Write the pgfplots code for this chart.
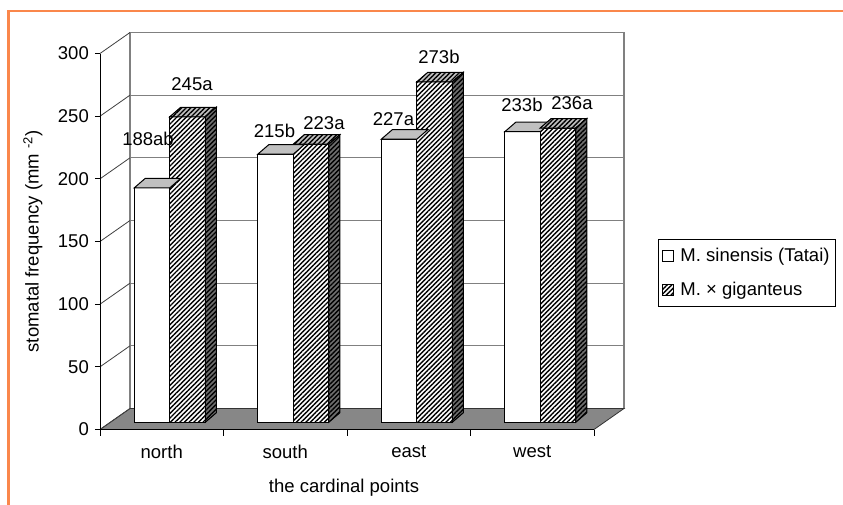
\documentclass[border=0pt]{standalone}
\usepackage{fontspec}
\setmainfont{Liberation Sans}
\usepackage{pgfplots}
\pgfplotsset{compat=1.18}
\usepackage{pgfplotstable}
\usetikzlibrary{patterns.meta}

\definecolor{orangeborder}{RGB}{250,135,75}
\definecolor{topgray}{RGB}{192,192,192}
\definecolor{floorgray}{RGB}{135,135,135}
\definecolor{wallgray}{RGB}{128,128,128}
\definecolor{sidegray}{RGB}{110,110,110}

\tikzset{hatch/.style={pattern={Lines[angle=45,distance=3.3pt,line width=1.4pt]}, pattern color=black}}
\pgfdeclareplotmark{nothing}{}

% category position, M. sinensis (Tatai), M. x giganteus
\pgfplotstableread{
x   sin gig
0.5 188 245
1.5 215 223
2.5 227 273
3.5 233 236
}\data

\begin{document}
\begin{tikzpicture}[x=1pt,y=1pt,font=\fontsize{18.5}{21}\selectfont]
\useasboundingbox (0,0) rectangle (843,504);
\clip (0,0) rectangle (843,504);
\fill[white] (0,0) rectangle (843,504);
\draw[orangeborder, line width=2.4pt] (8.3,492.7) rectangle (870,-30);

% ---------- front plane: axes, walls, floor ----------
\begin{axis}[
  at={(100pt,74.5pt)}, anchor=south west,
  scale only axis, width=494pt, height=376pt,
  xmin=0, xmax=4, ymin=0, ymax=300,
  clip=false, axis on top,
  axis lines*=left,
  axis line style={black, line width=0.9pt},
  ytick={0,50,...,300},
  xtick={0.5,1.5,2.5,3.5},
  xticklabels={north,south,east,west},
  major x tick style={draw=none},
  minor xtick={0,1,2,3,4},
  minor x tick style={black, line width=0.9pt},
  major y tick style={black, line width=0.9pt},
  tick align=outside,
  major tick length=5pt, minor tick length=6pt,
  /pgf/number format/assume math mode=true,
  xticklabel style={anchor=north, inner sep=0pt, yshift=-10.5pt},
  yticklabel style={anchor=east, inner sep=0pt, xshift=-6pt},
  xlabel={the cardinal points},
  ylabel={stomatal frequency (mm \textsuperscript{-2})},
  every axis x label/.style={at={(axis description cs:0.494,-0.1545)}, anchor=center},
  every axis y label/.style={at={(axis description cs:-0.1356,0.5)}, rotate=90, anchor=center},
]
% back wall
\addplot[fill=white, draw=wallgray, line width=1.3pt] coordinates {(0.2429,16.76) (4.2429,16.76) (4.2429,316.76) (0.2429,316.76) (0.2429,16.76)};
% floor
\addplot[fill=floorgray, draw=black!80, line width=0.8pt] coordinates {(0,0) (4,0) (4.2429,16.76) (0.2429,16.76) (0,0)};
\pgfplotsinvokeforeach{50,100,150,200,250}{
  \draw[wallgray, line width=1.3pt] (axis cs:0.2429,{#1+16.76}) -- (axis cs:4.2429,{#1+16.76});
}
\pgfplotsinvokeforeach{0,50,100,150,200,250,300}{
  \draw[black!75, line width=0.8pt] (axis cs:0,#1) -- (axis cs:0.2429,{#1+16.76});
}
\end{axis}

% ---------- bar plane ----------
\begin{axis}[
  at={(108pt,81.7pt)}, anchor=south west,
  scale only axis, width=494pt, height=374.1pt,
  xmin=0, xmax=4, ymin=0, ymax=300,
  hide axis, clip=false,
  bar width=35.5pt,
  legend image code/.code={\draw[#1] (0pt,-5.5pt) rectangle (11pt,5.5pt);},
  legend cell align=left,
  legend style={at={(axis description cs:1.1134,0.49)}, anchor=north west,
    draw=black, line width=0.9pt, fill=white,
    inner xsep=4pt, inner ysep=7pt, row sep=15pt,
    nodes={inner sep=2pt},
    /tikz/every odd column/.append style={column sep=4pt}},
]
\addplot[ybar, bar shift=-17.75pt, fill=white, draw=black, line width=1pt] table[x=x,y=sin]{\data};
\addlegendentry{M. sinensis (Tatai)}
\addplot[forget plot, scatter, only marks, mark=nothing,
  scatter/@pre marker code/.code={%
    \path[fill=topgray, draw=black, line width=1pt] (-17.75pt,0pt) -- (17.75pt,0pt) -- (28.75pt,9.5pt) -- (-6.75pt,9.5pt) -- cycle;},
  scatter/@post marker code/.code={}]
  table[x expr=\thisrow{x}-0.14372, y=sin]{\data};

\addplot[ybar, bar shift=17.75pt, draw=black, line width=1pt, preaction={fill=white}, hatch] table[x=x,y=gig]{\data};
\addlegendentry{M. × giganteus}
\addplot[forget plot, scatter, only marks, mark=nothing,
  visualization depends on={rawy \as \val},
  scatter/@pre marker code/.code={%
    \path[preaction={fill=topgray}, hatch, draw=black, line width=1pt] (-17.75pt,0pt) -- (17.75pt,0pt) -- (28.75pt,9.5pt) -- (-6.75pt,9.5pt) -- cycle;
    \path[preaction={fill=sidegray}, hatch, draw=black, line width=1pt] (17.75pt,0pt) -- (28.75pt,9.5pt) -- (28.75pt,{9.5pt-1.247pt*\val}) -- (17.75pt,{-1.247pt*\val}) -- cycle;},
  scatter/@post marker code/.code={}]
  table[x expr=\thisrow{x}+0.14372, y=gig]{\data};

\node at (axis cs:0.3239,227.2) {188ab};
\node at (axis cs:0.6802,271.3) {245a};
\node at (axis cs:1.3482,233.8) {215b};
\node at (axis cs:1.7490,240.3) {223a};
\node at (axis cs:2.3117,243.0) {227a};
\node at (axis cs:2.6800,293.2) {273b};
\node at (axis cs:3.3520,254.5) {233b};
\node at (axis cs:3.7570,256.1) {236a};
\end{axis}
\end{tikzpicture}
\end{document}
